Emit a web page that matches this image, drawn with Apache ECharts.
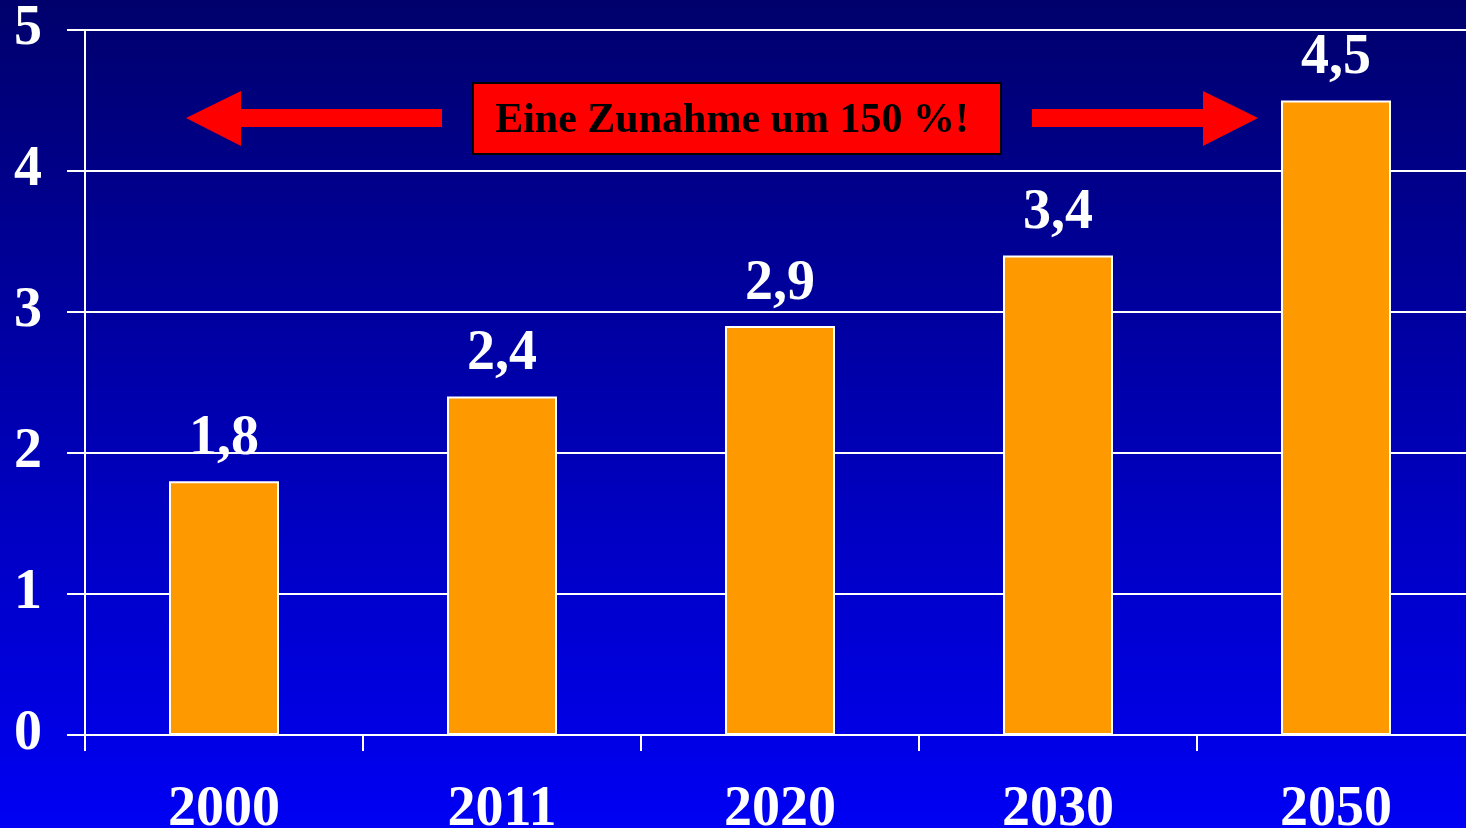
<!DOCTYPE html>
<html>
<head>
<meta charset="utf-8">
<script src="https://cdn.jsdelivr.net/npm/echarts@6/dist/echarts.min.js"></script>
<style>
  html, body { margin: 0; padding: 0; }
  #chart { width: 1466px; height: 828px; }
</style>
</head>
<body>
<div id="chart"></div>
<script>
const years = ['2000', '2011', '2020', '2030', '2050']
const values = [1.8, 2.4, 2.9, 3.4, 4.5]
const yTicks = [0, 1, 2, 3, 4, 5]
const note = 'Eine Zunahme um 150 %!'

const serif = '"Liberation Serif", "Times New Roman", serif'
const chart = echarts.init(document.getElementById('chart'))

chart.setOption({
  backgroundColor: {
    type: 'linear', x: 0, y: 0, x2: 0, y2: 1,
    colorStops: [
      { offset: 0, color: '#00006c' },
      { offset: 1, color: '#0000f4' },
    ],
  },
  animation: false,
  grid: {
    left: 85, top: 30, width: 1390, height: 705,
    containLabel: false, outerBoundsMode: 'none',
  },
  xAxis: {
    type: 'category',
    data: years,
    axisLine: { lineStyle: { color: '#fff', width: 2 } },
    axisTick: { show: true, length: 16, lineStyle: { color: '#fff', width: 2 } },
    axisLabel: {
      color: '#fff', fontFamily: serif, fontWeight: 'bold', fontSize: 56, margin: 48,
    },
    splitLine: { show: false },
  },
  yAxis: {
    type: 'value',
    min: yTicks[0],
    max: yTicks[yTicks.length - 1],
    interval: 1,
    axisLine: { show: true, lineStyle: { color: '#fff', width: 2 } },
    axisTick: { show: true, length: 18, lineStyle: { color: '#fff', width: 2 } },
    axisLabel: {
      color: '#fff', fontFamily: serif, fontWeight: 'bold', fontSize: 56, margin: 43,
      padding: [4, 0, 0, 0],
    },
    splitLine: { show: true, lineStyle: { color: '#fff', width: 2 } },
  },
  series: [{
    type: 'bar',
    data: values,
    barWidth: 110,
    itemStyle: { color: '#ff9900', borderColor: '#fff', borderWidth: 2 },
    label: {
      show: true,
      position: 'top',
      distance: 14,
      color: '#fff',
      fontFamily: serif,
      fontWeight: 'bold',
      fontSize: 56,
      formatter: (p) => String(p.value).replace('.', ','),
    },
  }],
  graphic: [
    // left arrow
    {
      type: 'polygon',
      shape: { points: [[186, 118], [241, 91], [241, 109], [442, 109], [442, 127], [241, 127], [241, 146]] },
      style: { fill: '#ff0000' },
    },
    // right arrow
    {
      type: 'polygon',
      shape: { points: [[1258, 118], [1203, 91], [1203, 109], [1032, 109], [1032, 127], [1203, 127], [1203, 146]] },
      style: { fill: '#ff0000' },
    },
    {
      type: 'rect',
      shape: { x: 473, y: 83, width: 528, height: 71 },
      style: { fill: '#ff0000', stroke: '#000', lineWidth: 2 },
    },
    {
      type: 'text',
      x: 732, y: 121,
      style: {
        text: note,
        fill: '#000',
        font: 'bold 42px ' + serif,
        align: 'center',
        verticalAlign: 'middle',
      },
    },
  ],
})
</script>
</body>
</html>
